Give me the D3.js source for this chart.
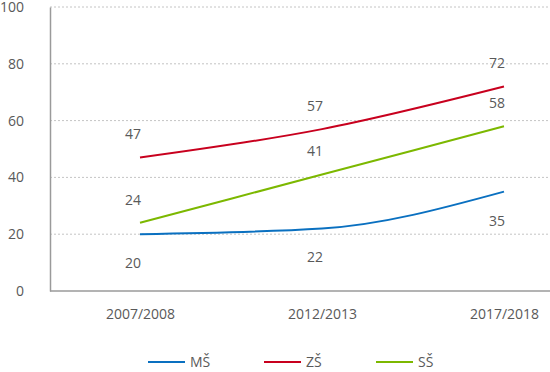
<!DOCTYPE html>
<html>
<head>
<meta charset="utf-8">
<script src="https://cdn.jsdelivr.net/npm/d3@7"></script>
<style>
  body { margin: 0; background: #fff; }
  text { font-family: "Open Sans", sans-serif; fill: #595959; }
</style>
</head>
<body>
<div id="chart"></div>
<script>
const years = ['2007/2008', '2012/2013', '2017/2018'];
const ms = [20, 22, 35];
const zs = [47, 57, 72];
const ss = [24, 41, 58];
const yTicks = [0, 20, 40, 60, 80, 100];

const series = [
  {name: 'MŠ', values: ms, color: '#0a70c0', below: true},
  {name: 'ZŠ', values: zs, color: '#c8001e', below: false},
  {name: 'SŠ', values: ss, color: '#7cb800', below: false}
];

const width = 550, height = 372;
const margin = {top: 7, right: 0, bottom: 81, left: 50};

const svg = d3.select('#chart')
    .append('svg')
    .attr('width', width)
    .attr('height', height);

const x = d3.scalePoint()
    .domain(years)
    .range([140, 504]);

const y = d3.scaleLinear()
    .domain([0, 100])
    .range([height - margin.bottom, margin.top]);

// gridlines
svg.append('g')
    .selectAll('line')
    .data(yTicks.slice(1))
    .enter()
    .append('line')
    .attr('x1', margin.left)
    .attr('x2', width)
    .attr('y1', (d) => y(d))
    .attr('y2', (d) => y(d))
    .attr('stroke', '#c4c4c4')
    .attr('stroke-width', 1)
    .attr('stroke-dasharray', '2,2');

// y axis
const yAxis = svg.append('g')
    .attr('transform', 'translate(' + margin.left + ',0)')
    .call(d3.axisLeft(y).tickValues(yTicks).tickSize(0).tickPadding(26));
yAxis.select('.domain').attr('stroke', '#9a9a9a').attr('stroke-width', 1.5);
yAxis.selectAll('text').style('font-size', '14px').attr('fill', '#595959');

// x axis
const xAxis = svg.append('g')
    .attr('transform', 'translate(0,' + y(0) + ')')
    .call(d3.axisBottom(x).tickSize(0).tickPadding(18));
xAxis.select('.domain')
    .attr('d', 'M' + margin.left + ',0H' + width)
    .attr('stroke', '#9a9a9a').attr('stroke-width', 1.5);
xAxis.selectAll('text').style('font-size', '14px').attr('fill', '#595959');

const line = d3.line()
    .x((d, i) => x(years[i]))
    .y((d) => y(d))
    .curve(d3.curveMonotoneX);

series.forEach((s) => {
  svg.append('path')
      .datum(s.values)
      .attr('fill', 'none')
      .attr('stroke', s.color)
      .attr('stroke-width', 2)
      .attr('d', line);

  svg.append('g')
      .selectAll('text')
      .data(s.values)
      .enter()
      .append('text')
      .attr('x', (d, i) => x(years[i]) + 1)
      .attr('y', (d) => y(d) + (s.below ? 29 : -23))
      .attr('dy', '0.35em')
      .attr('text-anchor', 'end')
      .style('font-size', '14px')
      .text((d) => d);
});

// legend
const legendX = [148, 264, 376];
const legend = svg.append('g')
    .selectAll('g')
    .data(series)
    .enter()
    .append('g')
    .attr('transform', (d, i) => 'translate(' + legendX[i] + ',362)');

legend.append('line')
    .attr('x1', 0)
    .attr('x2', 37)
    .attr('stroke', (d) => d.color)
    .attr('stroke-width', 2);

legend.append('text')
    .attr('x', 42)
    .attr('dy', '0.35em')
    .style('font-size', '14px')
    .text((d) => d.name);
</script>
</body>
</html>
